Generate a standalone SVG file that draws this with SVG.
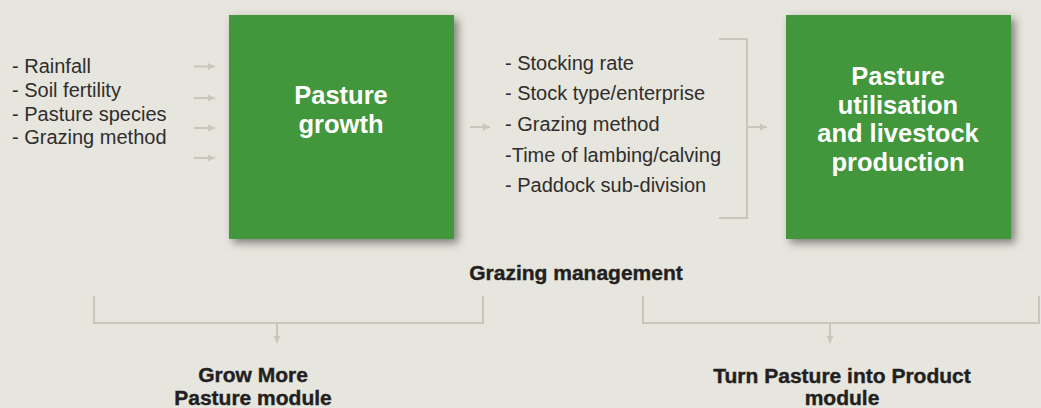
<svg xmlns="http://www.w3.org/2000/svg" width="1041" height="408" viewBox="0 0 1041 408">
  <defs>
    <filter id="shadow" x="-10%" y="-10%" width="130%" height="130%">
      <feDropShadow dx="4" dy="4" stdDeviation="4" flood-color="#3a3a35" flood-opacity="0.6"/>
    </filter>
    <marker id="arrow" markerUnits="userSpaceOnUse" markerWidth="8" markerHeight="8" refX="7" refY="4" orient="auto">
      <path d="M0,0.5 L7,4 L0,7.5 z" fill="#c8c7bc"/>
    </marker>
    <style>
      .box { fill: #43963b; filter: url(#shadow); }
      .boxtext { font-family: "Liberation Sans", Arial, sans-serif; font-weight: bold; font-size: 25.5px; fill: #ffffff; text-anchor: middle; }
      .list { font-family: "Liberation Sans", Arial, sans-serif; font-size: 20px; fill: #2f2e2c; }
      .label { font-family: "Liberation Sans", Arial, sans-serif; font-weight: bold; font-size: 21px; fill: #231f20; stroke: #231f20; stroke-width: 0.4; text-anchor: middle; }
      .conn { fill: none; stroke: #c8c7bc; stroke-width: 2; }
      .arr { fill: none; stroke: #c8c7bc; stroke-width: 2; marker-end: url(#arrow); }
    </style>
  </defs>
  <rect x="0" y="0" width="1041" height="408" fill="#e6e5de"/>

  <g id="inputs">
    <text class="list" x="12" y="73">- Rainfall</text>
    <text class="list" x="12" y="97">- Soil fertility</text>
    <text class="list" x="12" y="121">- Pasture species</text>
    <text class="list" x="12" y="144">- Grazing method</text>
  </g>

  <g id="pasture-growth">
    <rect class="box" x="229" y="15" width="225" height="224"/>
    <text class="boxtext" x="341" y="104">Pasture</text>
    <text class="boxtext" x="341" y="133">growth</text>
  </g>

  <g id="management-factors">
    <text class="list" x="505" y="70">- Stocking rate</text>
    <text class="list" x="505" y="100">- Stock type/enterprise</text>
    <text class="list" x="505" y="131">- Grazing method</text>
    <text class="list" x="505" y="162">-Time of lambing/calving</text>
    <text class="list" x="505" y="192">- Paddock sub-division</text>
  </g>

  <g id="pasture-utilisation">
    <rect class="box" x="786" y="15" width="225" height="224"/>
    <text class="boxtext" x="898" y="85">Pasture</text>
    <text class="boxtext" x="898" y="114">utilisation</text>
    <text class="boxtext" x="898" y="142">and livestock</text>
    <text class="boxtext" x="898" y="171">production</text>
  </g>

  <g id="grazing-management">
    <text class="label" x="576" y="280">Grazing management</text>
  </g>

  <g id="grow-more">
    <text class="label" x="253" y="382">Grow More</text>
    <text class="label" x="253" y="405">Pasture module</text>
  </g>

  <g id="turn-pasture">
    <text class="label" x="842" y="383">Turn Pasture into Product</text>
    <text class="label" x="842" y="405">module</text>
  </g>

  <g id="connectors">
    <line class="arr" x1="194" y1="66.5" x2="215" y2="66.5"/>
    <line class="arr" x1="194" y1="98" x2="215" y2="98"/>
    <line class="arr" x1="194" y1="128" x2="215" y2="128"/>
    <line class="arr" x1="194" y1="158" x2="215" y2="158"/>
    <line class="arr" x1="470" y1="127" x2="490" y2="127"/>
    <path class="conn" d="M719,39 H747 V218 H719"/>
    <line class="arr" x1="747" y1="127" x2="767" y2="127"/>
    <path class="conn" d="M94,296 V323 H483 V296"/>
    <line class="arr" x1="277" y1="323" x2="277" y2="343"/>
    <path class="conn" d="M643,296 V323 H1039 V296"/>
    <line class="arr" x1="830" y1="323" x2="830" y2="343"/>
  </g>
</svg>
